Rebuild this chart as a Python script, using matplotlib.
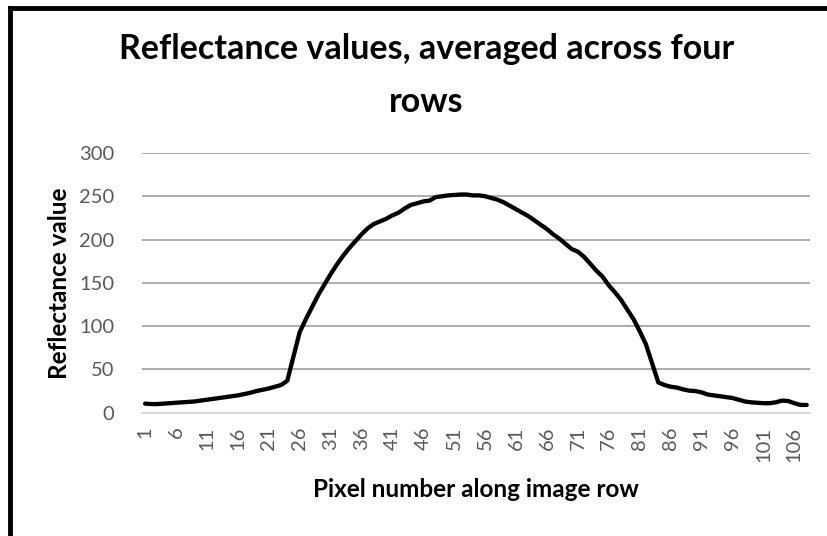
import numpy as np
import matplotlib.pyplot as plt
from matplotlib.lines import Line2D

plt.rcParams['font.family'] = ['Lato', 'DejaVu Sans']

# averaged reflectance per pixel
reflectance = [
    10.5, 10, 10, 10.5, 11, 11.5, 12, 12.5, 13, 14,
    15, 16, 17, 18, 19, 20, 21.5, 23, 25, 26.5,
    28, 30, 32, 37, 65, 93, 108, 122, 136, 148,
    160, 171, 181, 190, 198, 206, 213, 218, 221, 224,
    228, 231, 236, 240, 242, 244, 245, 249, 250, 251,
    251.5, 252, 252, 251, 251, 250, 248, 246, 243, 239,
    235, 231, 227, 222, 217, 212, 206, 201, 195, 189,
    186, 180, 172, 164, 157, 147, 139, 130, 119, 108,
    94, 79, 57, 35, 32, 30, 29, 27, 25.5, 25,
    23.5, 21, 20, 19, 18, 17, 15, 13, 12, 11.5,
    11, 11, 12, 14, 13.5, 11, 9, 9,
]
pixel = np.arange(1, len(reflectance) + 1)

fig = plt.figure(figsize=(8.28, 5.36), dpi=100)
ax = fig.add_axes([0.1715, 0.230, 0.8065, 0.4846])

ax.plot(pixel, reflectance, color='black', lw=3.1, solid_joinstyle='round',
        solid_capstyle='round')

ax.set_xlim(0.5, len(reflectance) + 0.5)
ax.set_ylim(0, 300)
ax.set_yticks(range(0, 301, 50))
ax.set_xticks(pixel[::5])
ax.set_xticklabels([str(p) for p in pixel[::5]], rotation=90)
ax.tick_params(axis='both', length=0, colors='#595959', labelsize=14.5)
ax.tick_params(axis='x', pad=10)
ax.tick_params(axis='y', pad=20)

ax.grid(axis='y', color='#a6a6a6', lw=1.3)
ax.set_axisbelow(True)
for s in ['top', 'right', 'left']:
    ax.spines[s].set_visible(False)
ax.spines['bottom'].set_color('#d9d9d9')
ax.spines['bottom'].set_linewidth(1.3)

ax.set_xlabel('Pixel number along image row', fontsize=17.5, fontweight='bold', labelpad=12)
ax.set_ylabel('Reflectance value', fontsize=17.5, fontweight='bold', labelpad=6)

fig.text(0.515, 0.859, 'Reflectance values, averaged across four\nrows',
         ha='center', va='center', fontsize=24.5, fontweight='bold',
         linespacing=1.78)

# chart border (left and top edges visible)
fig.add_artist(Line2D([0.0115, 0.0115], [0, 0.985], color='black', lw=3.5))
fig.add_artist(Line2D([0.0115, 1.0], [0.985, 0.985], color='black', lw=3.5))

plt.savefig('out.png', dpi=100)
